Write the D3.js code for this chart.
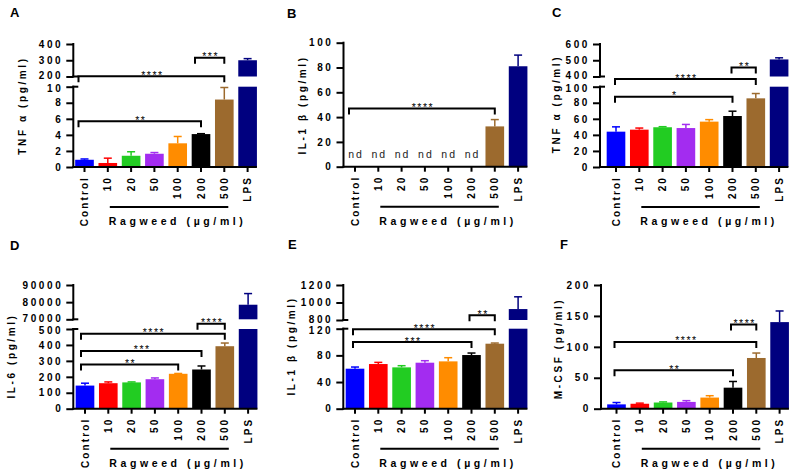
<!DOCTYPE html>
<html>
<head>
<meta charset="utf-8">
<script src="https://cdn.jsdelivr.net/npm/d3@7"></script>
<style>
  html, body { margin: 0; padding: 0; background: #fff; }
  svg { display: block; }
  text { font-family: "Liberation Sans", Arial, sans-serif; }
</style>
</head>
<body>
<svg id="chart" width="800" height="476"></svg>
<script>
// ---------------- DATA ----------------
const categories = ["Control", "10", "20", "50", "100", "200", "500", "LPS"];
const barColors = ["#0000ff", "#ff0000", "#22cc22", "#a32cf0", "#ff8c00", "#000000", "#9c6a2e", "#00007f"];
const xGroupLabel = "Ragweed (µg/ml)";

// A: TNF α
const tnfA_mean = [0.9, 0.5, 1.4, 1.65, 2.95, 4.1, 8.4, 300];
const tnfA_err  = [0.1, 0.6, 0.5, 0.15, 0.85, 0.05, 1.5, 10];
const tnfA_ticks = [0, 2, 4, 6, 8, 10, 200, 300, 400];
const tnfA_brackets = [[0, 5, 5.7, "**"], [0, 6, 202, "****"], [5, 6, 315, "***"]];

// B: IL-1 β
const il1bB_mean = [null, null, null, null, null, null, 32.5, 81];
const il1bB_err  = [0, 0, 0, 0, 0, 0, 5.5, 9];
const il1bB_ticks = [0, 20, 40, 60, 80, 100];
const il1bB_brackets = [[0, 6, 47, "****"]];

// C: TNF α
const tnfC_mean = [44, 46.5, 49.5, 48.5, 56.5, 63.5, 85.5, 505];
const tnfC_err  = [6, 2, 0.7, 4.5, 2.5, 6, 6, 10];
const tnfC_ticks = [0, 20, 40, 60, 80, 100, 400, 500, 600];
const tnfC_brackets = [[0, 5, 87.5, "*"], [0, 6, 326, "****"], [5, 6, 455, "**"]];

// D: IL-6
const il6D_mean = [145, 160, 165, 185, 219, 246, 392, 78500];
const il6D_err  = [15, 8, 3, 8, 2, 22, 20, 6500];
const il6D_ticks = [0, 100, 200, 300, 400, 500, 70000, 80000, 90000];
const il6D_brackets = [[0, 4, 278, "**"], [0, 5, 362, "***"], [0, 6, 470, "****"], [5, 6, 38000, "****"]];

// E: IL-1 β
const il1bE_mean = [60, 67, 62, 69, 71, 80.5, 97.5, 925];
const il1bE_err  = [2.5, 2.5, 2.5, 3, 5.5, 3, 1, 140];
const il1bE_ticks = [0, 40, 80, 120, 800, 1000, 1200];
const il1bE_brackets = [[0, 5, 100, "***"], [0, 6, 119, "****"], [5, 6, 854, "**"]];

// F: M-CSF
const mcsfF_mean = [7, 8, 10, 11, 18, 34, 82, 140];
const mcsfF_err  = [3, 1, 1, 2, 3, 10, 8, 18];
const mcsfF_ticks = [0, 50, 100, 150, 200];
const mcsfF_brackets = [[0, 5, 62, "**"], [0, 6, 108, "****"], [5, 6, 136, "****"]];

// ---------------- LAYOUT ----------------
const STEP = 23.3;
const panels = [
  { letter: "A", lx: 10, ly: 17, title: "TNF α (pg/ml)", tx: 26.3, ty: 105.5,
    mean: tnfA_mean, err: tnfA_err, ticks: tnfA_ticks, brackets: tnfA_brackets,
    axisX: 73.3, c0: 84.5, domain: [0, 10, 200, 400], range: [167, 86.7, 76.5, 44], inset: 6 },
  { letter: "B", lx: 287, ly: 18, title: "IL-1 β (pg/ml)", tx: 306.3, ty: 105,
    mean: il1bB_mean, err: il1bB_err, ticks: il1bB_ticks, brackets: il1bB_brackets,
    axisX: 343.5, c0: 355, domain: [0, 100], range: [166.7, 42.7], inset: 6, ndAt: 10 },
  { letter: "C", lx: 552, ly: 17, title: "TNF α (pg/ml)", tx: 560.3, ty: 104,
    mean: tnfC_mean, err: tnfC_err, ticks: tnfC_ticks, brackets: tnfC_brackets,
    axisX: 600, c0: 616, domain: [0, 100, 400, 600], range: [167, 86.7, 76.5, 44], inset: 1 },
  { letter: "D", lx: 10, ly: 250, title: "IL-6 (pg/ml)", tx: 15.3, ty: 356,
    mean: il6D_mean, err: il6D_err, ticks: il6D_ticks, brackets: il6D_brackets,
    axisX: 73.3, c0: 85, domain: [0, 500, 70000, 90000], range: [408.7, 329, 319.3, 285], inset: 4 },
  { letter: "E", lx: 288, ly: 249, title: "IL-1 β (pg/ml)", tx: 295.3, ty: 346,
    mean: il1bE_mean, err: il1bE_err, ticks: il1bE_ticks, brackets: il1bE_brackets,
    axisX: 343.3, c0: 355, domain: [0, 120, 800, 1200], range: [408.7, 328.7, 320, 285], inset: 2 },
  { letter: "F", lx: 560, ly: 249, title: "M-CSF (pg/ml)", tx: 562, ty: 348.5,
    mean: mcsfF_mean, err: mcsfF_err, ticks: mcsfF_ticks, brackets: mcsfF_brackets,
    axisX: 601, c0: 616.5, domain: [0, 200], range: [408.7, 285], inset: 2 }
];

const svg = d3.select("#chart");

panels.forEach(p => {
  const g = svg.append("g");
  const broken = p.domain.length === 4;
  const y = d3.scaleLinear().domain(p.domain).range(p.range);
  const x = d3.scaleBand().domain(categories)
    .range([p.c0 - STEP / 2, p.c0 + 7.5 * STEP])
    .paddingInner(0.2).paddingOuter(0.1);
  const bw = x.bandwidth();
  const y0 = y(0);
  const lowMax = p.domain[1];
  const upMin = broken ? p.domain[2] : null;

  // panel letter
  g.append("text").attr("x", p.lx).attr("y", p.ly)
    .attr("font-size", 13).attr("font-weight", "bold").text(p.letter);

  // bars
  categories.forEach((c, i) => {
    const v = p.mean[i];
    if (v === null) return;
    const col = barColors[i];
    if (broken && v > upMin) {
      g.append("rect").attr("x", x(c)).attr("width", bw)
        .attr("y", y(lowMax)).attr("height", y0 - y(lowMax)).attr("fill", col);
      g.append("rect").attr("x", x(c)).attr("width", bw)
        .attr("y", y(v)).attr("height", y(upMin) - y(v)).attr("fill", col);
    } else {
      g.append("rect").attr("x", x(c)).attr("width", bw)
        .attr("y", y(v)).attr("height", y0 - y(v)).attr("fill", col);
    }
    const e = p.err[i];
    if (e > 0) {
      const cx = x(c) + bw / 2;
      g.append("line").attr("x1", cx).attr("x2", cx)
        .attr("y1", y(v)).attr("y2", y(v + e))
        .attr("stroke", col).attr("stroke-width", 1.5);
      g.append("line").attr("x1", cx - 4).attr("x2", cx + 4)
        .attr("y1", y(v + e)).attr("y2", y(v + e))
        .attr("stroke", col).attr("stroke-width", 1.5);
    }
  });

  // nd labels
  if (p.ndAt !== undefined) {
    categories.forEach((c, i) => {
      if (p.mean[i] !== null) return;
      g.append("text").attr("x", x(c) + bw / 2 + 1).attr("y", y(p.ndAt) + 4)
        .attr("text-anchor", "middle").attr("font-size", 10.5)
        .style("letter-spacing", "2px").attr("fill", "#222").text("nd");
    });
  }

  // y axis
  const yAxis = d3.axisLeft(y).tickValues(p.ticks).tickSize(7).tickPadding(3).tickSizeOuter(0)
    .tickFormat(d3.format("d"));
  const ya = g.append("g").attr("transform", `translate(${p.axisX},0)`).call(yAxis);
  ya.select(".domain").remove();
  ya.selectAll(".tick line").attr("stroke", "#000").attr("stroke-width", 2);
  ya.selectAll(".tick text").attr("font-size", 10).attr("font-weight", "bold")
    .style("letter-spacing", "2.6px").attr("fill", "#000")
    .attr("font-family", "'Liberation Sans', Arial, sans-serif")
    .attr("dy", d => broken && d === upMin ? "0.2em" : (broken && d === lowMax ? "0.45em" : "0.32em"));
  const segs = broken ? [[0, lowMax], [upMin, p.domain[3]]] : [[p.domain[0], p.domain[1]]];
  segs.forEach(s => {
    g.append("line").attr("x1", p.axisX).attr("x2", p.axisX)
      .attr("y1", y(s[0]) + 1).attr("y2", y(s[1]) - 1)
      .attr("stroke", "#000").attr("stroke-width", 2);
  });
  if (broken) {
    [lowMax, upMin].forEach(v => {
      g.append("line").attr("x1", p.axisX - 1).attr("x2", p.axisX + 5)
        .attr("y1", y(v)).attr("y2", y(v)).attr("stroke", "#000").attr("stroke-width", 2);
    });
  }

  // y title
  g.append("text").attr("transform", `translate(${p.tx},${p.ty}) rotate(-90)`)
    .attr("text-anchor", "middle").attr("font-size", 10).attr("font-weight", "bold")
    .style("letter-spacing", "2.6px").text(p.title);

  // x axis
  const xAxis = d3.axisBottom(x).tickSize(5).tickSizeOuter(0);
  const xa = g.append("g").attr("transform", `translate(0,${y0})`).call(xAxis);
  xa.select(".domain").remove();
  xa.selectAll(".tick line").attr("stroke", "#000").attr("stroke-width", 2);
  xa.selectAll(".tick text")
    .attr("transform", "rotate(-90)").attr("x", -9).attr("y", 0).attr("dy", "0.35em")
    .style("text-anchor", "end").attr("font-size", 10).attr("font-weight", "bold")
    .style("letter-spacing", "2.1px").attr("fill", "#000")
    .attr("font-family", "'Liberation Sans', Arial, sans-serif");
  g.append("line").attr("x1", p.axisX - 1).attr("x2", x("LPS") + bw)
    .attr("y1", y0).attr("y2", y0).attr("stroke", "#000").attr("stroke-width", 2);

  // ragweed group line + label
  const cx10 = x("10") + bw / 2, cx500 = x("500") + bw / 2;
  g.append("line").attr("x1", cx10 + 2).attr("x2", cx500 + 4)
    .attr("y1", y0 + 40).attr("y2", y0 + 40).attr("stroke", "#000").attr("stroke-width", 2);
  g.append("text").attr("x", cx10 + 1).attr("y", y0 + 58)
    .attr("font-size", 10.5).attr("font-weight", "bold").style("letter-spacing", "3.6px")
    .text(xGroupLabel);

  // significance brackets
  p.brackets.forEach(b => {
    const x1 = x(categories[b[0]]) + bw / 2 - p.inset;
    const x2 = x(categories[b[1]]) + bw / 2;
    const by = y(b[2]);
    g.append("path").attr("d", `M${x1},${by + 6}V${by}H${x2}V${by + 6}`)
      .attr("fill", "none").attr("stroke", "#000").attr("stroke-width", 2);
    g.append("text").attr("x", (x1 + x2) / 2 + 1).attr("y", by + 2.5)
      .attr("text-anchor", "middle").attr("font-size", 10.5).style("letter-spacing", "1.5px")
      .text(b[3]);
  });
});
</script>
</body>
</html>
